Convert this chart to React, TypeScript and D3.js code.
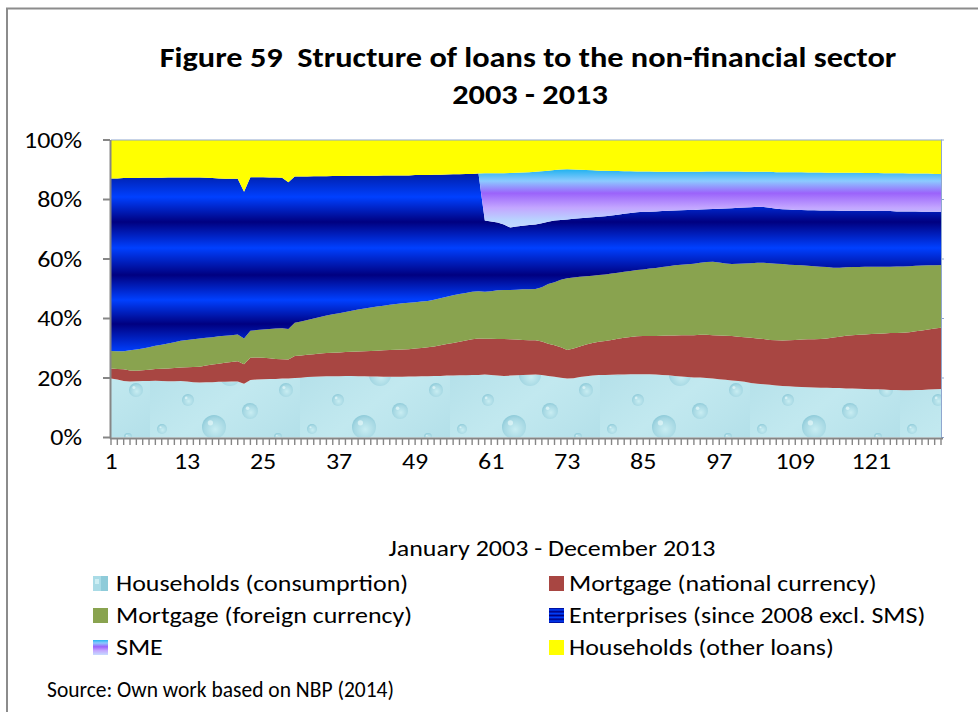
import { useMemo } from "react";
import * as d3 from "d3";

// monthly shares (%) January 2003 .. December 2013
const HH_CONSUMPTION = [
  19.8, 19.5, 19.0, 18.8, 18.9, 19.0, 19.0, 19.1, 19.0, 18.9, 18.9, 19.0,
  18.8, 18.6, 18.5, 18.6, 18.6, 18.7, 18.7, 18.8, 18.8, 18.1, 19.3, 19.5,
  19.6, 19.7, 19.7, 19.8, 19.8, 20.0, 20.1, 20.3, 20.4, 20.5, 20.6, 20.6,
  20.6, 20.7, 20.7, 20.6, 20.6, 20.5, 20.5, 20.4, 20.4, 20.4, 20.4, 20.5,
  20.5, 20.6, 20.6, 20.7, 20.7, 20.8, 20.8, 20.9, 20.9, 21.0, 21.0, 21.2,
  21.0, 20.8, 20.7, 20.8, 20.9, 21.0, 21.1, 21.2, 21.0, 20.7, 20.4, 20.1,
  19.8, 19.9, 20.3, 20.6, 20.8, 21.0, 21.0, 21.1, 21.2, 21.2, 21.3, 21.3,
  21.3, 21.3, 21.2, 21.0, 20.9, 20.7, 20.5, 20.3, 20.2, 20.2, 20.0, 19.8,
  19.6, 19.4, 19.2, 19.0, 18.7, 18.3, 18.1, 17.9, 17.7, 17.5, 17.3, 17.2,
  17.1, 17.0, 16.9, 16.8, 16.7, 16.7, 16.6, 16.6, 16.5, 16.5, 16.4, 16.3,
  16.2, 16.2, 16.1, 16.0, 16.0, 15.9, 15.9, 16.0, 16.0, 16.1, 16.2, 16.3,
];
const MORTGAGE_PLN = [
  3.4, 3.5, 3.9, 3.7, 3.5, 3.6, 3.8, 3.9, 4.1, 4.3, 4.5, 4.5,
  4.8, 5.1, 5.3, 5.6, 5.9, 6.1, 6.4, 6.6, 6.8, 6.5, 7.5, 7.4,
  7.2, 6.9, 6.7, 6.5, 6.4, 7.4, 7.5, 7.5, 7.6, 7.7, 7.8, 7.9,
  8.0, 8.0, 8.1, 8.3, 8.4, 8.6, 8.7, 8.9, 9.0, 9.1, 9.2, 9.2,
  9.4, 9.5, 9.7, 9.9, 10.3, 10.6, 11.0, 11.3, 11.7, 12.0, 12.3, 12.0,
  12.2, 12.3, 12.4, 12.2, 12.0, 11.8, 11.6, 11.5, 11.3, 10.8, 10.6, 10.2,
  9.6, 10.0, 10.3, 10.7, 11.0, 11.2, 11.4, 11.7, 12.0, 12.3, 12.5, 12.7,
  12.8, 12.8, 12.9, 13.2, 13.4, 13.6, 13.9, 14.1, 14.2, 14.3, 14.5, 14.6,
  14.7, 14.8, 14.9, 14.9, 15.0, 15.2, 15.2, 15.2, 15.1, 15.2, 15.3, 15.5,
  15.7, 15.9, 16.1, 16.2, 16.4, 16.6, 17.0, 17.3, 17.7, 17.9, 18.1, 18.3,
  18.6, 18.7, 18.9, 19.1, 19.1, 19.3, 19.5, 19.7, 20.0, 20.2, 20.4, 20.6,
];
const MORTGAGE_FX = [
  5.9, 6.0, 6.1, 6.8, 7.2, 7.3, 7.5, 7.8, 8.1, 8.4, 8.6, 9.0,
  9.2, 9.3, 9.5, 9.3, 9.2, 9.2, 9.1, 9.0, 9.0, 8.7, 9.1, 9.2,
  9.5, 9.9, 10.2, 10.4, 10.3, 11.2, 11.4, 11.7, 12.0, 12.3, 12.6, 12.9,
  13.2, 13.5, 13.8, 14.1, 14.4, 14.6, 14.8, 15.0, 15.2, 15.4, 15.5, 15.6,
  15.6, 15.6, 15.6, 15.7, 15.8, 15.9, 16.0, 16.0, 16.0, 16.0, 15.9, 15.8,
  16.0, 16.4, 16.5, 16.6, 16.8, 17.0, 17.1, 17.2, 18.2, 20.1, 21.2, 22.7,
  24.1, 23.9, 23.4, 22.9, 22.6, 22.4, 22.4, 22.3, 22.2, 22.2, 22.2, 22.3,
  22.4, 22.7, 22.9, 23.1, 23.3, 23.6, 23.7, 23.8, 24.0, 24.2, 24.5, 24.7,
  24.5, 24.3, 24.2, 24.5, 24.8, 25.1, 25.4, 25.6, 25.8, 25.7, 25.7, 25.4,
  25.2, 25.0, 24.7, 24.6, 24.3, 24.0, 23.5, 23.2, 23.0, 22.9, 22.8, 22.8,
  22.6, 22.5, 22.4, 22.3, 22.4, 22.3, 22.2, 22.0, 21.8, 21.6, 21.3, 21.1,
];
const ENTERPRISES = [
  58.0, 58.1, 58.2, 57.9, 57.6, 57.4, 57.0, 56.5, 56.1, 55.8, 55.4, 54.9,
  54.6, 54.4, 54.1, 53.8, 53.5, 53.1, 52.8, 52.6, 52.4, 49.3, 51.6, 51.4,
  51.2, 50.9, 50.8, 50.6, 49.3, 49.1, 48.7, 48.2, 47.8, 47.3, 46.8, 46.5,
  46.1, 45.7, 45.4, 45.0, 44.6, 44.3, 44.0, 43.8, 43.5, 43.2, 43.0, 42.8,
  42.7, 42.5, 42.3, 42.0, 41.5, 41.1, 40.7, 40.3, 40.0, 39.6, 39.5, 23.9,
  23.4, 22.8, 22.0, 21.0, 21.2, 21.4, 21.6, 21.7, 21.5, 20.9, 20.7, 20.1,
  19.8, 19.7, 19.7, 19.7, 19.6, 19.6, 19.6, 19.5, 19.5, 19.5, 19.5, 19.4,
  19.4, 19.1, 19.0, 18.8, 18.6, 18.4, 18.3, 18.3, 18.1, 17.9, 17.7, 17.7,
  18.1, 18.5, 18.8, 18.8, 18.8, 18.8, 18.9, 18.8, 18.6, 18.5, 18.4, 18.5,
  18.5, 18.6, 18.7, 18.8, 18.9, 19.0, 19.2, 19.1, 19.0, 18.9, 18.9, 18.8,
  18.8, 18.7, 18.7, 18.7, 18.5, 18.5, 18.4, 18.3, 18.1, 18.0, 18.0, 17.9,
];
const SME = [
  0, 0, 0, 0, 0, 0, 0, 0, 0, 0, 0, 0,
  0, 0, 0, 0, 0, 0, 0, 0, 0, 0, 0, 0,
  0, 0, 0, 0, 0, 0, 0, 0, 0, 0, 0, 0,
  0, 0, 0, 0, 0, 0, 0, 0, 0, 0, 0, 0,
  0, 0, 0, 0, 0, 0, 0, 0, 0, 0, 0, 15.9,
  16.2, 16.5, 17.2, 18.3, 18.1, 17.9, 17.8, 17.7, 17.5, 17.2, 17.0, 17.0,
  16.9, 16.6, 16.3, 16.0, 15.8, 15.5, 15.3, 15.0, 14.7, 14.3, 14.0, 13.7,
  13.5, 13.5, 13.3, 13.2, 13.1, 13.0, 12.9, 12.8, 12.8, 12.7, 12.7, 12.6,
  12.5, 12.4, 12.3, 12.2, 12.0, 11.9, 11.7, 11.8, 12.1, 12.3, 12.5, 12.6,
  12.7, 12.7, 12.7, 12.7, 12.8, 12.7, 12.7, 12.8, 12.8, 12.8, 12.8, 12.7,
  12.7, 12.8, 12.7, 12.7, 12.8, 12.8, 12.7, 12.7, 12.8, 12.8, 12.7, 12.7,
];
const HH_OTHER = [
  12.9, 12.9, 12.8, 12.8, 12.8, 12.7, 12.7, 12.7, 12.7, 12.6, 12.6, 12.6,
  12.6, 12.6, 12.6, 12.7, 12.8, 12.9, 13.0, 13.0, 13.0, 17.4, 12.5, 12.5,
  12.5, 12.6, 12.6, 12.7, 14.2, 12.3, 12.3, 12.3, 12.2, 12.2, 12.2, 12.1,
  12.1, 12.1, 12.0, 12.0, 12.0, 12.0, 12.0, 11.9, 11.9, 11.9, 11.9, 11.9,
  11.8, 11.8, 11.8, 11.7, 11.7, 11.6, 11.5, 11.5, 11.4, 11.4, 11.3, 11.2,
  11.2, 11.2, 11.2, 11.1, 11.0, 10.9, 10.8, 10.7, 10.5, 10.3, 10.1, 9.9,
  9.8, 9.9, 10.0, 10.1, 10.2, 10.3, 10.3, 10.4, 10.4, 10.5, 10.5, 10.6,
  10.6, 10.6, 10.7, 10.7, 10.7, 10.7, 10.7, 10.7, 10.7, 10.7, 10.6, 10.6,
  10.6, 10.6, 10.6, 10.6, 10.7, 10.7, 10.7, 10.7, 10.7, 10.8, 10.8, 10.8,
  10.8, 10.8, 10.9, 10.9, 10.9, 11.0, 11.0, 11.0, 11.0, 11.0, 11.0, 11.1,
  11.1, 11.1, 11.2, 11.2, 11.2, 11.2, 11.3, 11.3, 11.3, 11.3, 11.4, 11.4,
];

const SERIES_KEYS = ["hhCons", "mortPln", "mortFx", "ent", "sme", "hhOther"];
const SERIES_LABELS = [
  "Households (consumprtion)",
  "Mortgage (national currency)",
  "Mortgage (foreign currency)",
  "Enterprises (since 2008 excl. SMS)",
  "SME",
  "Households (other loans)",
];
const X_TICKS = [1, 13, 25, 37, 49, 61, 73, 85, 97, 109, 121];
const Y_TICKS = [0, 0.2, 0.4, 0.6, 0.8, 1];

const FILLS: Record<string, string> = {
  hhCons: "url(#drops)",
  mortPln: "#A84642",
  mortFx: "#89A34F",
  ent: "url(#entGrad)",
  sme: "url(#smeGrad)",
  hhOther: "#FFFF00",
};
const SWATCH_FILLS: Record<string, string> = {
  hhCons: "url(#dropSwatch)",
  mortPln: "#A84642",
  mortFx: "#89A34F",
  ent: "url(#entSwatch)",
  sme: "url(#smeSwatch)",
  hhOther: "#FFFF00",
};

const FONT = "Carlito, Lato, 'Open Sans', sans-serif";
const PLOT = { left: 111, right: 941, top: 140, bottom: 437.5 };
// the original chart was pasted a bit stretched sideways
const STRETCH = 1.18;

// water drop texture for the consumption series
const DROPS = [
  { cx: 18, cy: 22, r: 9 },
  { cx: 52, cy: 12, r: 4 },
  { cx: 80, cy: 30, r: 11 },
  { cx: 112, cy: 14, r: 5 },
  { cx: 38, cy: 55, r: 6 },
  { cx: 100, cy: 66, r: 8 },
  { cx: 64, cy: 82, r: 12 },
  { cx: 12, cy: 84, r: 5 },
  { cx: 128, cy: 92, r: 4 },
  { cx: 136, cy: 45, r: 7 },
  { cx: 26, cy: 106, r: 3 },
  { cx: 96, cy: 104, r: 3 },
];

type TProps = {
  x: number;
  y: number;
  size: number;
  sx?: number;
  anchor?: "start" | "middle" | "end";
  bold?: boolean;
  children: React.ReactNode;
};

function T({ x, y, size, sx = STRETCH, anchor = "start", bold = false, children }: TProps) {
  return (
    <text
      transform={`translate(${x},${y}) scale(${sx},1)`}
      dominantBaseline="central"
      textAnchor={anchor}
      fontFamily={FONT}
      fontWeight={bold ? "bold" : "normal"}
      fontSize={size}
      fill="#000"
      style={{ whiteSpace: "pre" }}
    >
      {children}
    </text>
  );
}

export default function App() {
  const rows = useMemo(
    () =>
      HH_CONSUMPTION.map((v, i) => ({
        month: i + 1,
        hhCons: v,
        mortPln: MORTGAGE_PLN[i],
        mortFx: MORTGAGE_FX[i],
        ent: ENTERPRISES[i],
        sme: SME[i],
        hhOther: HH_OTHER[i],
      })),
    []
  );

  const stacked = d3.stack<any>().keys(SERIES_KEYS).offset(d3.stackOffsetExpand)(rows);

  const x = d3.scaleLinear().domain([1, 132]).range([PLOT.left, PLOT.right]);
  const y = d3.scaleLinear().domain([0, 1]).range([PLOT.bottom, PLOT.top]);

  const area = d3
    .area<any>()
    .x((d) => x(d.data.month))
    .y0((d) => y(d[0]))
    .y1((d) => y(d[1]));

  const months = d3.range(1, 133);
  const legendCols = [
    { sx: 93, tx: 116 },
    { sx: 549, tx: 569 },
  ];

  return (
    <div style={{ position: "fixed", left: 0, top: 0 }}>
      <svg width={978} height={712} style={{ display: "block", background: "#fff" }}>
        <defs>
          <pattern id="drops" patternUnits="userSpaceOnUse" width={150} height={115}>
            <rect width={150} height={115} fill="#bae4ec" />
            <rect width={150} height={115} fill="url(#dropShade)" />
            {DROPS.map((d, i) => (
              <g key={i}>
                <circle cx={d.cx} cy={d.cy} r={d.r} fill="url(#dropGrad)" />
                <circle cx={d.cx - d.r * 0.3} cy={d.cy - d.r * 0.35} r={d.r * 0.22} fill="#e6f8fa" opacity={0.7} />
              </g>
            ))}
          </pattern>
          <linearGradient id="dropShade" x1="0" y1="0" x2="1" y2="1">
            <stop offset="0" stopColor="#a3d6e2" stopOpacity={0.5} />
            <stop offset="0.5" stopColor="#cdeff4" stopOpacity={0.4} />
            <stop offset="1" stopColor="#a3d6e2" stopOpacity={0.5} />
          </linearGradient>
          <radialGradient id="dropGrad" cx="0.55" cy="0.6" r="0.6">
            <stop offset="0" stopColor="#c8edf2" />
            <stop offset="0.75" stopColor="#a6d8e3" />
            <stop offset="1" stopColor="#8fcbd9" />
          </radialGradient>
          <pattern id="dropSwatch" patternUnits="objectBoundingBox" width={1} height={1}>
            <rect width={15} height={15} fill="#a9dbe6" />
            <rect x={8} width={7} height={15} fill="#8ecbd9" />
            <rect x={2} y={3} width={4} height={5} fill="#cdeef3" />
          </pattern>
          <linearGradient id="entGrad" gradientUnits="userSpaceOnUse" x1={0} y1={171} x2={0} y2={352}>
            <stop offset={0} stopColor="#001a9e" />
            <stop offset={(197 - 171) / 181} stopColor="#0040ff" />
            <stop offset={(222 - 171) / 181} stopColor="#000080" />
            <stop offset={(248 - 171) / 181} stopColor="#0040ff" />
            <stop offset={(275 - 171) / 181} stopColor="#000080" />
            <stop offset={(300 - 171) / 181} stopColor="#0040ff" />
            <stop offset={(324 - 171) / 181} stopColor="#000080" />
            <stop offset={1} stopColor="#0040ff" />
          </linearGradient>
          <linearGradient id="entSwatch" x1={0} y1={0} x2={0} y2={0.25} spreadMethod="repeat">
            <stop offset={0} stopColor="#000080" />
            <stop offset={0.5} stopColor="#0040ff" />
            <stop offset={1} stopColor="#000080" />
          </linearGradient>
          <linearGradient id="smeGrad" gradientUnits="userSpaceOnUse" x1={0} y1={170} x2={0} y2={231}>
            <stop offset={0} stopColor="#27b4f0" />
            <stop offset={0.18} stopColor="#8ccaff" />
            <stop offset={0.38} stopColor="#9b63fb" />
            <stop offset={0.62} stopColor="#c3a6ff" />
            <stop offset={0.82} stopColor="#b9d3ff" />
            <stop offset={1} stopColor="#c6dcff" />
          </linearGradient>
          <linearGradient id="smeSwatch" x1={0} y1={0} x2={0} y2={1}>
            <stop offset={0} stopColor="#27b4f0" />
            <stop offset={0.2} stopColor="#8ccaff" />
            <stop offset={0.45} stopColor="#9b63fb" />
            <stop offset={0.7} stopColor="#c3a6ff" />
            <stop offset={1} stopColor="#c6dcff" />
          </linearGradient>
        </defs>

        {/* chart frame */}
        <rect x={7} y={8.5} width={1000} height={800} fill="none" stroke="#8c8c8c" strokeWidth={2} />

        {/* title */}
        <T x={528} y={57} size={29} sx={1.115} anchor="middle" bold>
          {"Figure 59  Structure of loans to the non-financial sector"}
        </T>
        <T x={530} y={94} size={29} sx={1.115} anchor="middle" bold>
          2003 - 2013
        </T>

        {/* stacked areas */}
        {stacked.map((s) => (
          <path key={s.key} d={area(s) ?? ""} fill={FILLS[s.key]} />
        ))}

        {/* plot top/right border */}
        <line x1={PLOT.left} x2={PLOT.right + 1} y1={PLOT.top} y2={PLOT.top} stroke="#8fa7cf" strokeWidth={1} />
        <line x1={PLOT.right + 0.5} x2={PLOT.right + 0.5} y1={PLOT.top} y2={PLOT.bottom} stroke="#8fa7cf" strokeWidth={1} />
        {Y_TICKS.map((t) => (
          <line key={"r" + t} x1={PLOT.right} x2={PLOT.right + 3} y1={y(t)} y2={y(t)} stroke="#8fa7cf" />
        ))}

        {/* y axis */}
        <line x1={110.5} x2={110.5} y1={PLOT.top} y2={PLOT.bottom + 1} stroke="#868686" strokeWidth={2} />
        {Y_TICKS.map((t) => (
          <g key={t}>
            <line x1={103} x2={110} y1={y(t)} y2={y(t)} stroke="#868686" strokeWidth={2} />
            <T x={82} y={y(t)} size={22} anchor="end">
              {d3.format(".0%")(t)}
            </T>
          </g>
        ))}

        {/* x axis */}
        <line x1={110} x2={PLOT.right + 2} y1={438.5} y2={438.5} stroke="#868686" strokeWidth={2} />
        {months.map((m) => (
          <line key={m} x1={x(m)} x2={x(m)} y1={438} y2={445} stroke="#868686" strokeWidth={1.4} />
        ))}
        {X_TICKS.map((m) => (
          <T key={m} x={x(m)} y={461} size={22} anchor="middle">
            {m}
          </T>
        ))}
        <T x={552} y={548} size={22} anchor="middle">
          January 2003 - December 2013
        </T>

        {/* legend */}
        {SERIES_KEYS.map((k, i) => {
          const col = legendCols[i % 2];
          const cy = 583 + Math.floor(i / 2) * 32;
          return (
            <g key={k}>
              <rect x={col.sx} y={cy - 7} width={15} height={15} fill={SWATCH_FILLS[k]} />
              <T x={col.tx} y={cy} size={22}>
                {SERIES_LABELS[i]}
              </T>
            </g>
          );
        })}

        <T x={47} y={690} size={21.5} sx={1}>
          Source: Own work based on NBP (2014)
        </T>
      </svg>
    </div>
  );
}
